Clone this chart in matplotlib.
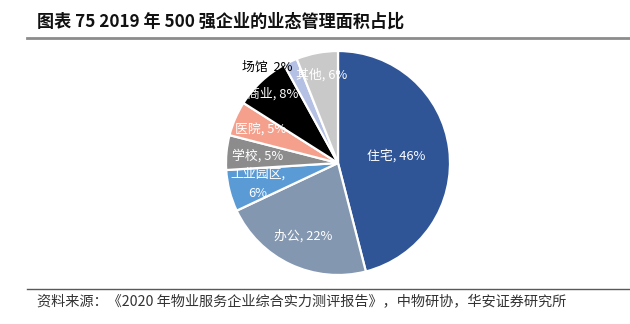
import numpy as np
import matplotlib
matplotlib.use("Agg")
import matplotlib.pyplot as plt
from matplotlib.lines import Line2D

plt.rcParams['font.family'] = ['Noto Sans CJK SC', 'DejaVu Sans']

categories = ["住宅", "办公", "工业园区", "学校", "医院", "商业", "场馆", "其他"]
values = [46, 22, 6, 5, 5, 8, 2, 6]
label_texts = ["住宅, 46%", "办公, 22%", "工业园区,\n6%", "学校, 5%", "医院, 5%",
               "商业, 8%", "场馆  2%", "其他, 6%"]
colors = ["#2F5597", "#8497B0", "#5B9BD5", "#8C8C8C", "#F4A08C", "#000000",
          "#B4C0E4", "#C9C9C9"]
label_r = [0.52, 0.72, 0.74, 0.72, 0.75, 0.85, 0.95, 0.80]
label_col = ["white", "white", "white", "white", "white", "white", "black", "white"]
label_ha = ["center"] * 6 + ["right", "center"]

W, H = 630, 324
fig = plt.figure(figsize=(W / 100, H / 100), dpi=100)

cx, cy, R = 338, 163, 112
ax = fig.add_axes([(cx - R) / W, (H - cy - R) / H, 2 * R / W, 2 * R / H])
wedges, _ = ax.pie(values, colors=colors, startangle=90, counterclock=False,
                   radius=1.0, wedgeprops=dict(edgecolor="white", linewidth=1.6))
ax.set_xlim(-1, 1)
ax.set_ylim(-1, 1)
ax.set_aspect("equal")
ax.axis("off")

for w, t, r, c, ha in zip(wedges, label_texts, label_r, label_col, label_ha):
    ang = np.deg2rad((w.theta1 + w.theta2) / 2)
    ax.text(r * np.cos(ang), r * np.sin(ang), t, ha=ha, va="center",
            color=c, fontsize=9.3, linespacing=1.6, clip_on=False)

# title
fig.text(37 / W, 1 - 22 / H, "图表 75 2019 年 500 强企业的业态管理面积占比",
         fontsize=12.3, fontweight="bold", ha="left", va="center", color="#111111")
fig.add_artist(Line2D([27 / W, 1.0], [1 - 38 / H, 1 - 38 / H], color="#8C8C8C",
                      linewidth=2.0, transform=fig.transFigure))
fig.add_artist(Line2D([27 / W, 1.0], [1 - 289 / H, 1 - 289 / H], color="#595959",
                      linewidth=1.0, transform=fig.transFigure))
fig.text(37 / W, 1 - 302 / H,
         "资料来源：《2020 年物业服务企业综合实力测评报告》，中物研协，华安证券研究所",
         fontsize=10.2, ha="left", va="center", color="#333333")

fig.savefig("out.png", dpi=100)
